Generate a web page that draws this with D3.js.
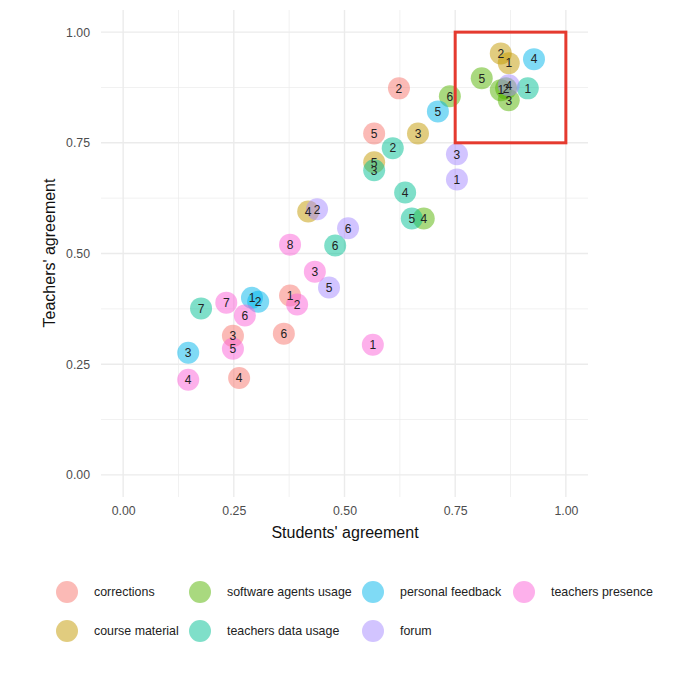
<!DOCTYPE html>
<html><head><meta charset="utf-8">
<script src="https://cdn.jsdelivr.net/npm/d3@7"></script>
<style>body{margin:0;background:#fff}svg{display:block;font-family:"Liberation Sans",Arial,sans-serif}</style>
</head><body><svg id="c" width="680" height="673"></svg>
<script>
const categories = ["corrections","course material","software agents usage","teachers data usage","personal feedback","forum","teachers presence"];
const colors = ["#F8766D","#C49A00","#53B400","#00C094","#00B6EB","#A58AFF","#FB61D7"];
// [label, students, teachers]
const corrections = [[1,0.377,0.405],[2,0.623,0.873],[3,0.248,0.314],[4,0.262,0.219],[5,0.567,0.771],[6,0.363,0.319]];
const courseMaterial = [[1,0.871,0.930],[2,0.853,0.952],[3,0.666,0.771],[4,0.418,0.595],[5,0.567,0.706]];
const softwareAgents = [[1,0.853,0.869],[2,0.865,0.873],[3,0.871,0.846],[4,0.679,0.579],[5,0.810,0.896],[6,0.738,0.855]];
const teachersData = [[1,0.914,0.873],[2,0.609,0.738],[3,0.567,0.688],[4,0.637,0.638],[5,0.652,0.579],[6,0.479,0.518],[7,0.176,0.376]];
const personalFeedback = [[1,0.291,0.400],[2,0.305,0.391],[3,0.147,0.276],[4,0.928,0.939],[5,0.711,0.821]];
const forum = [[1,0.754,0.667],[2,0.438,0.600],[3,0.754,0.724],[4,0.871,0.880],[5,0.465,0.423],[6,0.508,0.557]];
const teachersPresence = [[1,0.564,0.294],[2,0.393,0.385],[3,0.433,0.459],[4,0.147,0.215],[5,0.248,0.285],[6,0.275,0.360],[7,0.233,0.389],[8,0.377,0.520]];
const seriesList = [corrections,courseMaterial,softwareAgents,teachersData,personalFeedback,forum,teachersPresence];
const tickValues = [0,0.25,0.5,0.75,1];
const minorValues = [0.125,0.375,0.625,0.875];
const highlight = {x0:0.75,x1:1.0,y0:0.75,y1:1.0};

const points = [];
seriesList.forEach((s,i)=>s.forEach(d=>points.push({cat:categories[i],ci:i,label:d[0],x:d[1],y:d[2]})));

const svg = d3.select("#c");
const x = d3.scaleLinear().domain([-0.05,1.05]).range([101,588]);
const y = d3.scaleLinear().domain([-0.05,1.05]).range([497,10]);

const grid = svg.append("g");
minorValues.forEach(v=>{
  grid.append("line").attr("x1",x(v)).attr("x2",x(v)).attr("y1",y.range()[0]).attr("y2",y.range()[1]).attr("stroke","#ebebeb").attr("stroke-width",0.7);
  grid.append("line").attr("y1",y(v)).attr("y2",y(v)).attr("x1",x.range()[0]).attr("x2",x.range()[1]).attr("stroke","#ebebeb").attr("stroke-width",0.7);
});
tickValues.forEach(v=>{
  grid.append("line").attr("x1",x(v)).attr("x2",x(v)).attr("y1",y.range()[0]).attr("y2",y.range()[1]).attr("stroke","#ebebeb").attr("stroke-width",1.4);
  grid.append("line").attr("y1",y(v)).attr("y2",y(v)).attr("x1",x.range()[0]).attr("x2",x.range()[1]).attr("stroke","#ebebeb").attr("stroke-width",1.4);
});

const xAxis = svg.append("g").attr("transform","translate(0,497)")
  .call(d3.axisBottom(x).tickValues(tickValues).tickFormat(d3.format(".2f")).tickSize(0).tickPadding(9));
const yAxis = svg.append("g").attr("transform","translate(101,0)")
  .call(d3.axisLeft(y).tickValues(tickValues).tickFormat(d3.format(".2f")).tickSize(0).tickPadding(11));
[xAxis,yAxis].forEach(a=>{a.select(".domain").remove();a.selectAll("text").attr("fill","#4d4d4d").style("font-size","12.3px");});

svg.append("text").attr("x",345).attr("y",538).attr("text-anchor","middle").style("font-size","16px").attr("fill","#111").text("Students' agreement");
svg.append("text").attr("transform","translate(55,253) rotate(-90)").attr("text-anchor","middle").style("font-size","16px").attr("fill","#111").text("Teachers' agreement");

svg.append("g").selectAll("circle").data(points).join("circle")
  .attr("cx",d=>x(d.x)).attr("cy",d=>y(d.y)).attr("r",11)
  .attr("fill",d=>colors[d.ci]).attr("fill-opacity",0.5);
svg.append("g").selectAll("text").data(points).join("text")
  .attr("x",d=>x(d.x)).attr("y",d=>y(d.y)).attr("dy","0.36em").attr("text-anchor","middle")
  .style("font-size","12px").attr("fill","#222").text(d=>d.label);

svg.append("rect").attr("x",x(highlight.x0)).attr("y",y(highlight.y1))
  .attr("width",x(highlight.x1)-x(highlight.x0)).attr("height",y(highlight.y0)-y(highlight.y1))
  .attr("fill","none").attr("stroke","#E53A2F").attr("stroke-width",3);

// legend (column-wise, 2 rows)
const legX = [67,200,373,524], legY = [592,631];
const leg = svg.append("g");
categories.forEach((c,i)=>{
  const col = Math.floor(i/2), row = i%2;
  const g = leg.append("g").attr("transform",`translate(${legX[col]},${legY[row]})`);
  g.append("circle").attr("r",11).attr("fill",colors[i]).attr("fill-opacity",0.5);
  g.append("text").attr("x",27).attr("dy","0.35em").style("font-size","12.4px").attr("fill","#222").text(c);
});
</script></body></html>
